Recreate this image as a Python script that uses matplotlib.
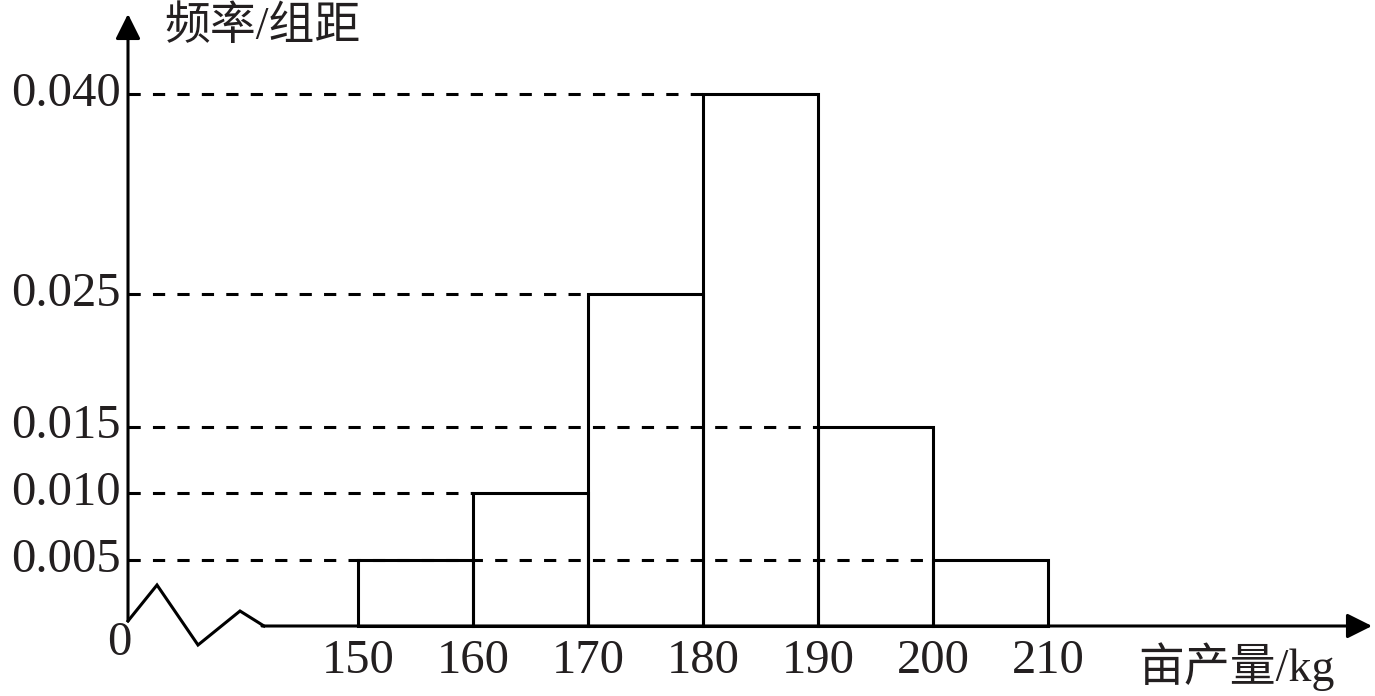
import matplotlib
matplotlib.use("Agg")
import matplotlib.pyplot as plt

# ---- data ----
bin_edges = [150, 160, 170, 180, 190, 200, 210]
freq_density = [0.005, 0.010, 0.025, 0.040, 0.015, 0.005]
y_ticks = [0.005, 0.010, 0.015, 0.025, 0.040]
y_tick_labels = ["0.005", "0.010", "0.015", "0.025", "0.040"]
x_tick_labels = ["150", "160", "170", "180", "190", "200", "210"]
y_label = "频率/组距"
x_label = "亩产量/kg"

# ---- layout ----
W, H = 1375, 696
fig = plt.figure(figsize=(W / 100, H / 100), dpi=100)
ax = fig.add_axes([0, 0, 1, 1])
ax.set_axis_off()

# pixel -> data mapping (origin pixel 128,626; 10 units = 115 px; 0.001 = 13.3 px)
X0, PX0, SX = 130.0, 128.0, 11.5
SY, PY0 = 13300.0, 626.0
def dx(px): return X0 + (px - PX0) / SX
def dy(py): return (PY0 - py) / SY
ax.set_xlim(dx(0), dx(W))
ax.set_ylim(dy(H), dy(0))

LW = 2.2
TXT = "#231f20"
serif = ["Liberation Serif", "Noto Sans CJK SC"]
FS = 35
FS_CJK = 33

# bars
lefts = bin_edges[:-1]
widths = [b - a for a, b in zip(bin_edges[:-1], bin_edges[1:])]
ax.bar(lefts, freq_density, width=widths, align="edge", fill=False,
       edgecolor="black", linewidth=LW, zorder=3)

# dashed guide lines
for v in y_ticks:
    end = max(l for l, h in zip(lefts, freq_density) if abs(h - v) < 1e-9)
    ax.plot([X0, end], [v, v], color="black", lw=LW, ls=(0, (4, 4)), zorder=2)

# y axis with arrow
ax.annotate("", xy=(X0, dy(14)), xytext=(X0, dy(621)),
            arrowprops=dict(arrowstyle="-|>", lw=LW, color="black",
                            mutation_scale=38, shrinkA=0, shrinkB=0))
# x axis with arrow
ax.annotate("", xy=(dx(1372), 0), xytext=(dx(262), 0),
            arrowprops=dict(arrowstyle="-|>", lw=LW, color="black",
                            mutation_scale=38, shrinkA=0, shrinkB=0))
# zigzag axis break
zz_px = [(128, 621), (157, 585), (198, 645), (240, 611), (264, 626)]
ax.plot([dx(p[0]) for p in zz_px], [dy(p[1]) for p in zz_px],
        color="black", lw=LW, solid_joinstyle="miter", zorder=3)

# tick labels
for v, s in zip(y_ticks, y_tick_labels):
    ax.text(dx(121), v, s, ha="right", va="center", fontsize=FS,
            family=serif, color=TXT)
for v, s in zip(bin_edges, x_tick_labels):
    ax.text(v, dy(661), s, ha="center", va="center", fontsize=FS,
            family=serif, color=TXT)
ax.text(dx(119), dy(643), "0", ha="center", va="center", fontsize=FS,
        family=serif, color=TXT)

# axis titles
ax.text(dx(164), dy(28), y_label, ha="left", va="center", fontsize=FS_CJK,
        family=serif, color=TXT)
ax.text(dx(1138), dy(667), x_label, ha="left", va="center", fontsize=FS_CJK,
        family=serif, color=TXT)

fig.savefig("out.png", dpi=100)
